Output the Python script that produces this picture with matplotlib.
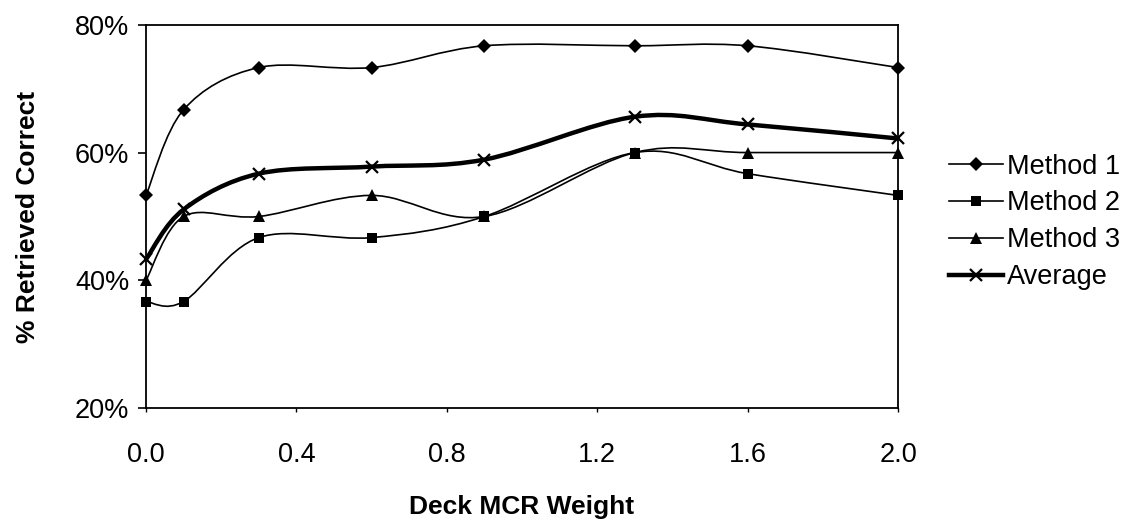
import numpy as np
import matplotlib
matplotlib.use("Agg")
import matplotlib.pyplot as plt
from matplotlib.path import Path
from matplotlib.patches import PathPatch
from matplotlib.lines import Line2D
from matplotlib.ticker import FuncFormatter

# Deck MCR weight settings and retrieval rates (%)
weights = [0.0, 0.1, 0.3, 0.6, 0.9, 1.3, 1.6, 2.0]
method1 = [53.3, 66.7, 73.3, 73.3, 76.7, 76.7, 76.7, 73.3]
method2 = [36.7, 36.7, 46.7, 46.7, 50.0, 60.0, 56.7, 53.3]
method3 = [40.0, 50.0, 50.0, 53.3, 50.0, 60.0, 60.0, 60.0]
average = [43.3, 51.1, 56.7, 57.8, 58.9, 65.6, 64.4, 62.2]
series_names = ["Method 1", "Method 2", "Method 3", "Average"]

xticks = [0.0, 0.4, 0.8, 1.2, 1.6, 2.0]
yticks = [20, 40, 60, 80]

plt.rcParams["font.family"] = ["Liberation Sans", "DejaVu Sans"]


def smooth_path(xs, ys):
    """Smoothed line through the points (Catmull-Rom as cubic Bezier)."""
    pts = np.column_stack([xs, ys]).astype(float)
    n = len(pts)
    verts = [pts[0]]
    codes = [Path.MOVETO]
    for i in range(n - 1):
        p0 = pts[i - 1] if i > 0 else pts[i]
        p1 = pts[i]
        p2 = pts[i + 1]
        p3 = pts[i + 2] if i + 2 < n else pts[i + 1]
        c1 = p1 + (p2 - p0) / 6.0
        c2 = p2 - (p3 - p1) / 6.0
        verts += [c1, c2, p2]
        codes += [Path.CURVE4] * 3
    return Path(verts, codes)


fig = plt.figure(figsize=(11.3, 5.23), dpi=100)
ax = fig.add_axes([0.1292, 0.2193, 0.6655, 0.7335])

styles = [
    dict(marker="D", ms=7, lw=1.2, mew=0),
    dict(marker="s", ms=7, lw=1.2, mew=0),
    dict(marker="^", ms=8, lw=1.2, mew=0),
    dict(marker="x", ms=9, lw=3.2, mew=1.6),
]
all_series = [method1, method2, method3, average]

handles = []
for vals, st, name in zip(all_series, styles, series_names):
    patch = PathPatch(smooth_path(weights, vals), fill=False,
                      edgecolor="black", lw=st["lw"], capstyle="round",
                      joinstyle="round", zorder=3)
    ax.add_patch(patch)
    ax.plot(weights, vals, linestyle="none", marker=st["marker"],
            ms=st["ms"], color="black", mew=st["mew"], zorder=4,
            clip_on=False)
    handles.append(Line2D([], [], color="black", lw=st["lw"],
                          marker=st["marker"], ms=st["ms"],
                          mew=st["mew"], label=name))

ax.set_xlim(0, 2.0)
ax.set_ylim(20, 80)
ax.set_xticks(xticks)
ax.set_yticks(yticks)
ax.xaxis.set_major_formatter(FuncFormatter(lambda v, p: f"{v:.1f}"))
ax.yaxis.set_major_formatter(FuncFormatter(lambda v, p: f"{v:.0f}%"))

for sp in ax.spines.values():
    sp.set_linewidth(1.3)
    sp.set_color("black")

ax.tick_params(axis="y", direction="out", length=6, width=1.2,
               labelsize=19.5, pad=6)
ax.tick_params(axis="x", direction="out", length=3, width=1.0,
               labelsize=19.5, pad=21)

ax.set_xlabel("Deck MCR Weight", fontsize=19, fontweight="bold",
              labelpad=20)
ax.set_ylabel("% Retrieved Correct", fontsize=19, fontweight="bold",
              labelpad=25)

fig.legend(handles=handles, loc="center left",
           bbox_to_anchor=(0.840, 0.576), frameon=False, fontsize=19.5,
           handlelength=2.0, handletextpad=0.15, labelspacing=0.4,
           borderpad=0, borderaxespad=0)

fig.savefig("out.png", dpi=100, facecolor="white")
